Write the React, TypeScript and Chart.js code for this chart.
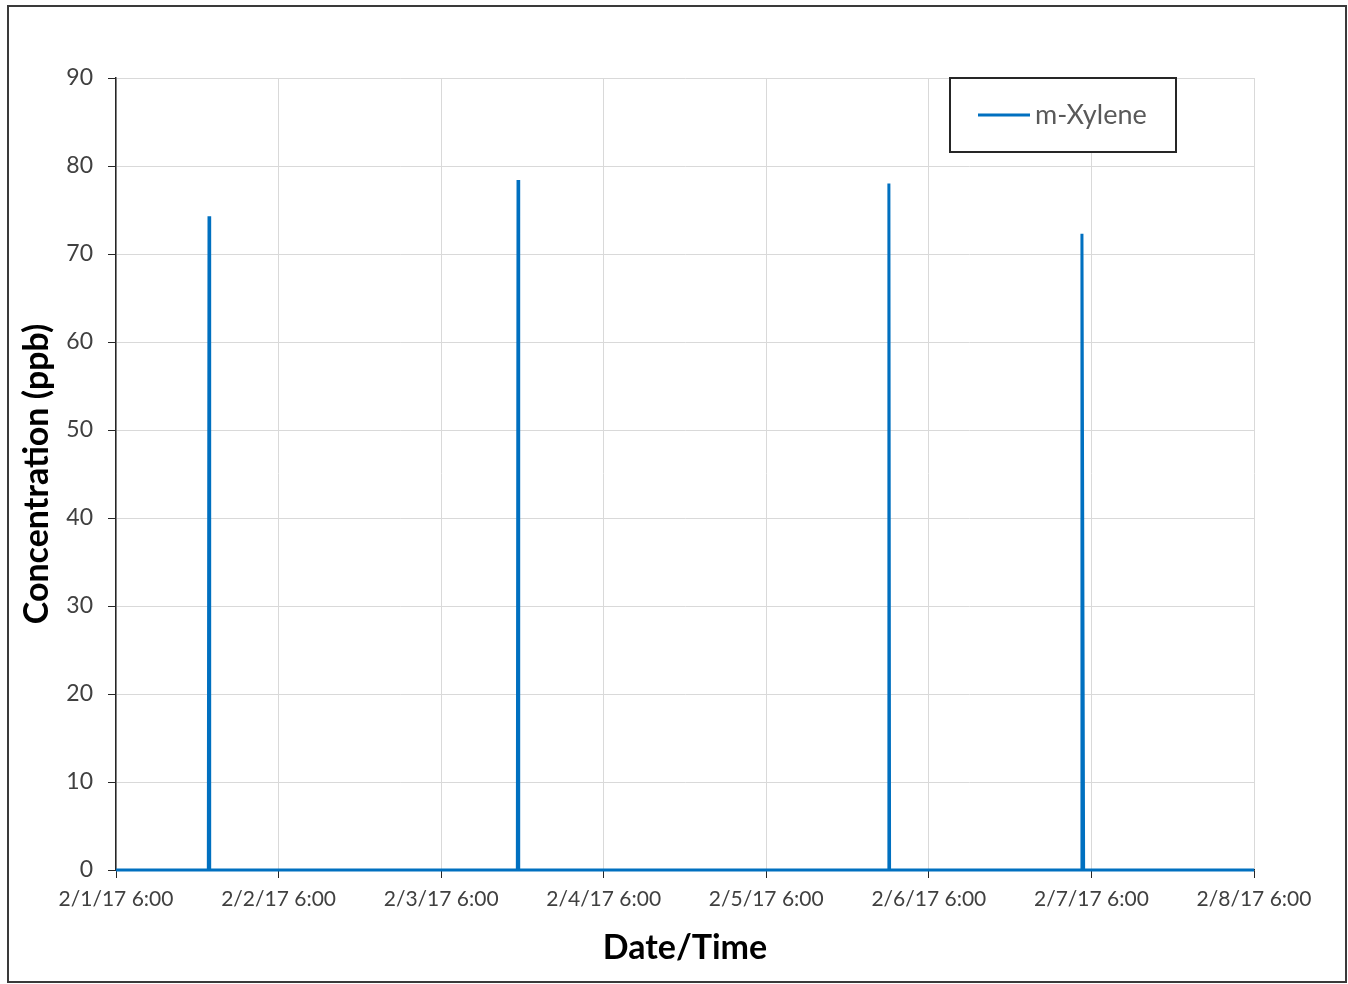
import React, { useEffect, useRef } from "react";
import { Chart, registerables } from "chart.js";

Chart.register(...registerables);

// Hours since 2/1/17 6:00
const timeHours = [0, 13.63, 13.73, 13.83, 59.25, 59.35, 59.45, 114.0, 114.1, 114.2, 142.5, 142.6, 142.85, 168];
const mXylene = [0, 0, 74.3, 0, 0, 78.4, 0, 0, 78.0, 0, 0, 72.3, 0, 0];
const xTickLabels = [
  "2/1/17 6:00",
  "2/2/17 6:00",
  "2/3/17 6:00",
  "2/4/17 6:00",
  "2/5/17 6:00",
  "2/6/17 6:00",
  "2/7/17 6:00",
  "2/8/17 6:00",
];
const seriesName = "m-Xylene";

const FONT = "Lato, 'Open Sans', sans-serif";

const legendBoxPlugin = {
  id: "legendBox",
  afterDraw(chart: any) {
    const { ctx, chartArea } = chart;
    const w = 226;
    const h = 74;
    const x = chartArea.right - 78 - w;
    const y = chartArea.top;
    ctx.save();
    ctx.fillStyle = "#ffffff";
    ctx.fillRect(x, y, w, h);
    ctx.strokeStyle = "#262626";
    ctx.lineWidth = 2;
    ctx.strokeRect(x, y, w, h);
    ctx.strokeStyle = "#0070C0";
    ctx.lineWidth = 3;
    ctx.beginPath();
    ctx.moveTo(x + 28, y + 37);
    ctx.lineTo(x + 80, y + 37);
    ctx.stroke();
    ctx.fillStyle = "#595959";
    ctx.font = `27px ${FONT}`;
    ctx.textBaseline = "middle";
    ctx.textAlign = "left";
    ctx.fillText(seriesName, x + 85, y + 37);
    ctx.restore();
  },
};

export default function App() {
  const ref = useRef<HTMLCanvasElement>(null);
  useEffect(() => {
    if (!ref.current) return;
    const chart = new Chart(ref.current, {
      type: "line",
      data: {
        datasets: [
          {
            label: seriesName,
            data: timeHours.map((t, i) => ({ x: t, y: mXylene[i] })),
            borderColor: "#0070C0",
            backgroundColor: "#0070C0",
            borderWidth: 3,
            pointRadius: 0,
            tension: 0,
            clip: false,
          },
        ],
      },
      options: {
        animation: false,
        responsive: false,
        devicePixelRatio: 1,
        layout: { padding: { left: 0, top: 71, right: 91, bottom: 0 } },
        plugins: { legend: { display: false }, tooltip: { enabled: false } },
        scales: {
          x: {
            type: "linear",
            min: 0,
            max: 168,
            afterFit: (s: any) => {
              s.height = 111;
            },
            afterBuildTicks: (s: any) => {
              s.ticks = xTickLabels.map((_, i) => ({ value: i * 24 }));
            },
            ticks: {
              callback: (v: any) => xTickLabels[Math.round(Number(v) / 24)] ?? "",
              color: "#404040",
              font: { family: FONT, size: 21 },
              padding: 9,
              maxRotation: 0,
              autoSkip: false,
            },
            grid: { color: "#d9d9d9", lineWidth: 1, tickColor: "#262626", tickLength: 8 },
            border: { color: "#262626", width: 1.5 },
            title: {
              display: true,
              text: "Date/Time",
              color: "#000000",
              font: { family: FONT, size: 34, weight: "bold", lineHeight: 1.2 },
              padding: { top: 0, bottom: 13 },
            },
          },
          y: {
            min: 0,
            max: 90,
            afterFit: (s: any) => {
              s.width = 107;
            },
            ticks: {
              stepSize: 10,
              color: "#404040",
              font: { family: FONT, size: 23 },
              padding: 15,
            },
            grid: { color: "#d9d9d9", lineWidth: 1, tickColor: "#262626", tickLength: 8 },
            border: { color: "#262626", width: 1.5 },
            title: {
              display: true,
              text: "Concentration (ppb)",
              color: "#000000",
              font: { family: FONT, size: 34, weight: "bold", lineHeight: 1.2 },
              padding: { top: 8, bottom: 0 },
            },
          },
        },
      },
      plugins: [legendBoxPlugin],
    } as any);
    return () => chart.destroy();
  }, []);
  return (
    <div
      style={{
        position: "absolute",
        left: 7,
        top: 5,
        border: "2px solid #3a3a3a",
        width: 1336,
        height: 974,
        background: "#fff",
      }}
    >
      <canvas ref={ref} width={1336} height={974} style={{ display: "block" }} />
    </div>
  );
}
